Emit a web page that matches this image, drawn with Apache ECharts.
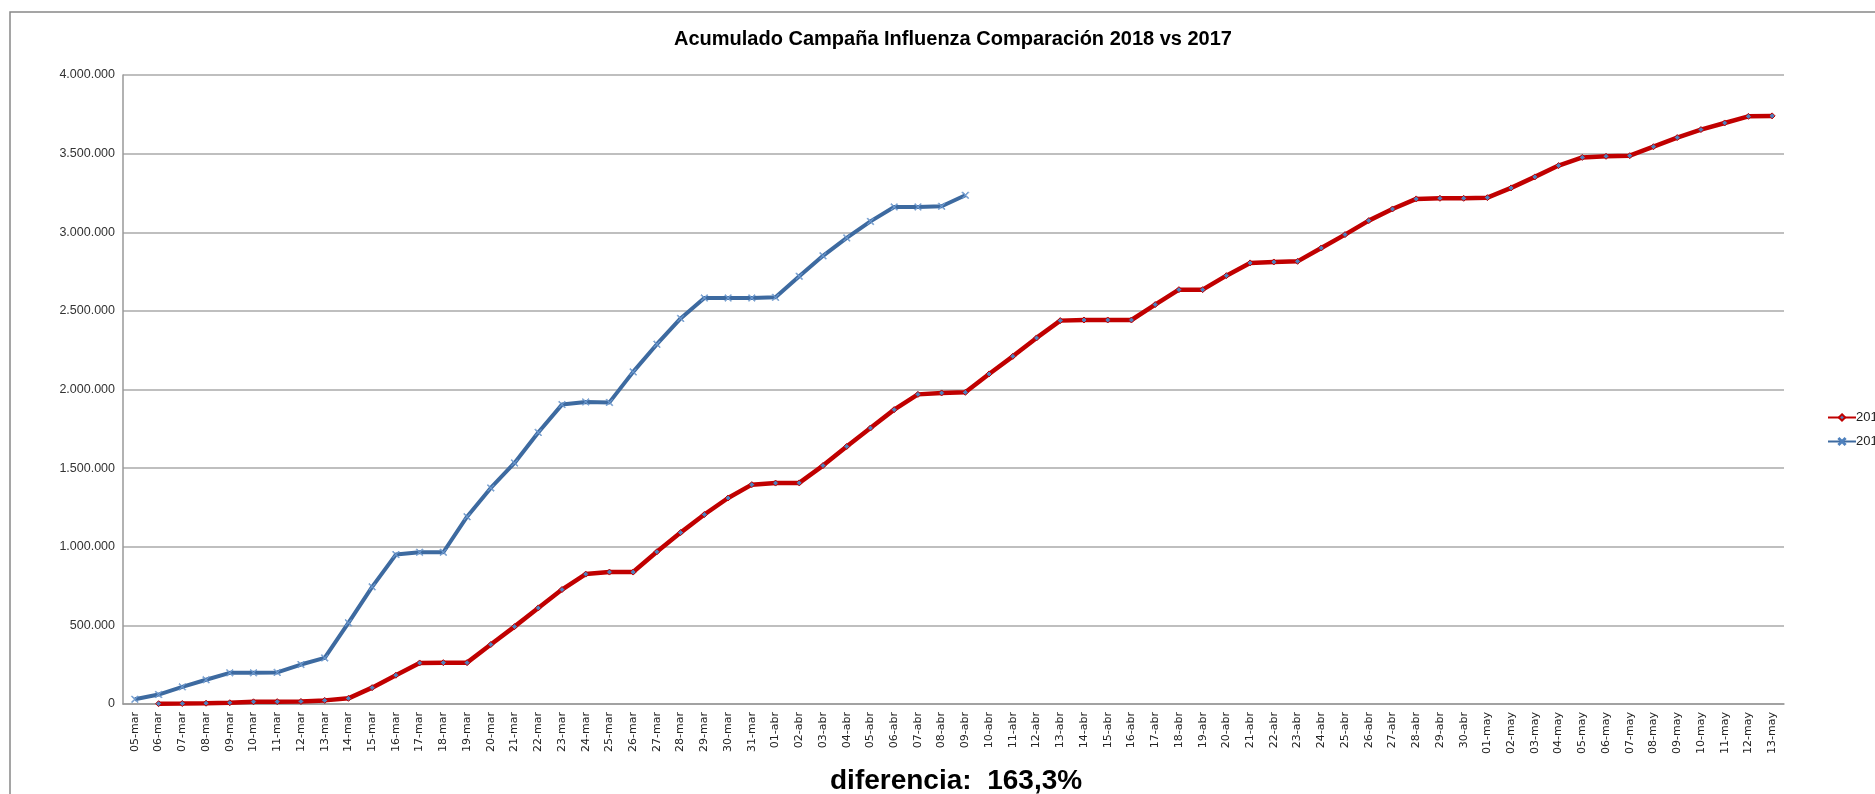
<!DOCTYPE html>
<html>
<head>
<meta charset="utf-8">
<script src="https://cdn.jsdelivr.net/npm/echarts@6/dist/echarts.min.js"></script>
<style>
  html, body { margin: 0; padding: 0; background: #fff; }
  #chart { width: 1875px; height: 794px; }
</style>
</head>
<body>
<div id="chart"></div>
<script>
// categorias (05-mar .. 13-may)
var dias = ['05-mar','06-mar','07-mar','08-mar','09-mar','10-mar','11-mar','12-mar','13-mar','14-mar',
  '15-mar','16-mar','17-mar','18-mar','19-mar','20-mar','21-mar','22-mar','23-mar','24-mar',
  '25-mar','26-mar','27-mar','28-mar','29-mar','30-mar','31-mar',
  '01-abr','02-abr','03-abr','04-abr','05-abr','06-abr','07-abr','08-abr','09-abr','10-abr',
  '11-abr','12-abr','13-abr','14-abr','15-abr','16-abr','17-abr','18-abr','19-abr','20-abr',
  '21-abr','22-abr','23-abr','24-abr','25-abr','26-abr','27-abr','28-abr','29-abr','30-abr',
  '01-may','02-may','03-may','04-may','05-may','06-may','07-may','08-may','09-may','10-may',
  '11-may','12-may','13-may']

var v2017 = [null, 2000, 3000, 5000, 8000, 14000, 15000, 16000, 23000, 36000,
  104000, 183000, 261000, 263000, 263000, 378000, 492000, 611000, 728000, 826000,
  839000, 839000, 968000, 1090000, 1205000, 1310000, 1395000,
  1405000, 1406000, 1516000, 1638000, 1755000, 1872000, 1969000, 1978000, 1982000, 2099000,
  2211000, 2328000, 2438000, 2442000, 2442000, 2442000, 2540000, 2635000, 2635000, 2724000,
  2805000, 2811000, 2815000, 2900000, 2985000, 3074000, 3148000, 3212000, 3216000, 3216000,
  3220000, 3282000, 3352000, 3424000, 3476000, 3483000, 3487000, 3544000, 3602000, 3653000,
  3695000, 3737000, 3740000]

var v2018 = [30000, 60000, 109000, 154000, 198000, 198000, 201000, 251000, 293000, 516000,
  745000, 950000, 965000, 965000, 1191000, 1374000, 1533000, 1727000, 1904000, 1921000,
  1918000, 2112000, 2288000, 2452000, 2582000, 2582000, 2582000,
  2586000, 2720000, 2850000, 2964000, 3069000, 3161000, 3161000, 3165000, 3235000]

var titulo = 'Acumulado Campaña Influenza Comparación 2018 vs 2017'
var pie = 'diferencia:  163,3%'

var fuente = "'Liberation Sans Narrow', 'Liberation Sans', Arial, sans-serif"

var myChart = echarts.init(document.getElementById('chart'))

option = {
    backgroundColor: '#fff',
    animation: false,
    textStyle: { fontFamily: fuente },
    title: {
        text: titulo,
        left: 948,
        top: 24,
        textAlign: 'center',
        textStyle: {
            fontFamily: 'Liberation Sans, Arial, sans-serif',
            fontSize: 20,
            fontWeight: 'bold',
            color: '#000'
        }
    },
    graphic: [{
        type: 'rect',
        shape: { x: 10, y: 12, width: 2000, height: 1000 },
        style: { fill: null, stroke: '#888', lineWidth: 1.5 },
        silent: true,
        z: -1
    }, {
        type: 'text',
        left: 830,
        top: 767,
        style: {
            text: pie,
            fontFamily: 'Liberation Sans, Arial, sans-serif',
            fontSize: 28,
            fontWeight: 'bold',
            fill: '#000'
        }
    }],
    legend: {
        orient: 'vertical',
        left: 1822,
        top: 406,
        itemWidth: 28,
        itemHeight: 8,
        itemGap: 11,
        textStyle: { fontSize: 13, color: '#222', padding: [0, 0, 0, -5] },
        data: ['2017', '2018']
    },
    grid: {
        left: 123,
        right: 91,
        top: 75,
        bottom: 90
    },
    xAxis: {
        type: 'category',
        data: dias,
        boundaryGap: true,
        axisLine: { lineStyle: { color: '#999', width: 1.5 } },
        axisTick: { show: false },
        axisLabel: {
            interval: 0,
            rotate: 90,
            fontFamily: 'DejaVu Sans, Verdana, sans-serif',
            fontSize: 11,
            color: '#222',
            margin: 8
        }
    },
    yAxis: {
        type: 'value',
        min: 0,
        max: 4000000,
        interval: 500000,
        axisLine: { show: true, lineStyle: { color: '#999', width: 1.5 } },
        axisTick: { show: false },
        splitLine: { lineStyle: { color: '#aaa', width: 1.5 } },
        axisLabel: {
            fontSize: 12.5,
            color: '#333',
            margin: 8,
            formatter: function (v) {
                return String(v).replace(/\B(?=(\d{3})+(?!\d))/g, '.')
            }
        }
    },
    series: [{
        name: '2017',
        type: 'line',
        data: v2017,
        symbol: 'diamond',
        symbolSize: 6,
        lineStyle: { color: '#C00000', width: 4.5 },
        itemStyle: { color: '#4F81BD', borderColor: '#C00000', borderWidth: 1 },
        z: 2
    }, {
        name: '2018',
        type: 'line',
        data: v2018,
        symbol: 'path://M0,1L1,0L5,4L9,0L10,1L6,5L10,9L9,10L5,6L1,10L0,9L4,5Z',
        symbolSize: 7,
        lineStyle: { color: '#3D6AA0', width: 4 },
        itemStyle: { color: '#7FA6D6', borderColor: '#4F81BD', borderWidth: 0.5 },
        z: 3
    }]
}
myChart.setOption(option)
</script>
</body>
</html>
